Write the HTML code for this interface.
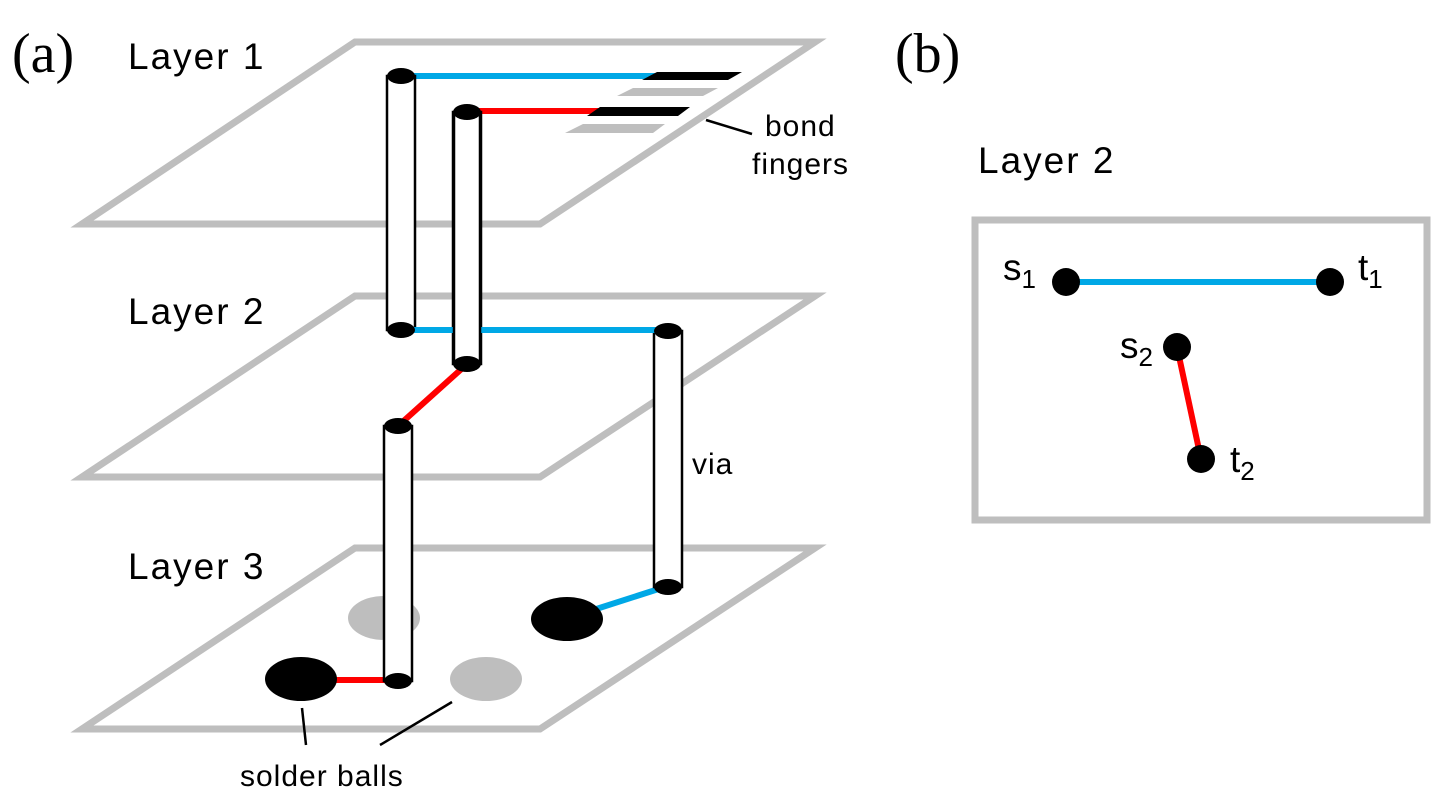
<!DOCTYPE html>
<html><head><style>body{margin:0;background:#fff}svg{display:block}text{font-family:"Liberation Sans","Noto Sans CJK KR",sans-serif;fill:#000}</style></head>
<body>
<svg width="1452" height="805" viewBox="0 0 1452 805" xmlns="http://www.w3.org/2000/svg">
<g fill="none" stroke="#bebebe" stroke-width="7">
<polygon points="355,42 815,42 540,224 82,224"/>
<polygon points="355,296 815,296 540,477 82,477"/>
<polygon points="355,548 815,548 540,729 82,729"/>
<rect x="975" y="220" width="452" height="300"/>
</g>
<text x="12" y="72" style="font-family:'Liberation Serif',serif" font-size="56">(a)</text>
<text x="895" y="72" style="font-family:'Liberation Serif',serif" font-size="56">(b)</text>
<g font-size="37" letter-spacing="2">
<text x="128" y="69">Layer 1</text>
<text x="128" y="324">Layer 2</text>
<text x="128" y="579">Layer 3</text>
<text x="978" y="173">Layer 2</text>
</g>
<!-- bond fingers -->
<line x1="401" y1="76" x2="657" y2="76" stroke="#00a8e6" stroke-width="6"/>
<line x1="467" y1="111" x2="600" y2="111" stroke="#f00" stroke-width="6"/>
<polygon points="657,72 742,72 728,80 642,80" fill="#000"/>
<polygon points="633,88 718,88 703,96 617,96" fill="#bebebe"/>
<polygon points="600,107 690,107 678,116 587,116" fill="#000"/>
<polygon points="583,124 665,124 653,133 565,133" fill="#bebebe"/>
<line x1="706" y1="120" x2="752" y2="134" stroke="#000" stroke-width="2.5"/>
<g font-size="30" letter-spacing="1">
<text x="765" y="136">bond</text>
<text x="752" y="174">fingers</text>
<text x="240" y="786">solder balls</text>
<text x="692" y="474">via</text>
</g>
<!-- layer 3 balls -->
<ellipse cx="384" cy="618" rx="36" ry="22" fill="#bebebe"/>
<ellipse cx="486" cy="679" rx="36" ry="22" fill="#bebebe"/>
<line x1="301" y1="680" x2="398" y2="680" stroke="#f00" stroke-width="6"/>
<line x1="590" y1="611" x2="668" y2="586" stroke="#00a8e6" stroke-width="6"/>
<ellipse cx="567" cy="619" rx="36" ry="22" fill="#000"/>
<ellipse cx="301" cy="679" rx="36" ry="22" fill="#000"/>
<line x1="302" y1="708" x2="306" y2="745" stroke="#000" stroke-width="2.5"/>
<line x1="452" y1="702" x2="380" y2="745" stroke="#000" stroke-width="2.5"/>
<!-- vias -->
<g stroke="#000" stroke-width="2.5" fill="#fff">
<rect x="387" y="76" width="28" height="254"/>
<rect x="453" y="112" width="28" height="252"/>
<rect x="384" y="426" width="28" height="255"/>
<rect x="654" y="331" width="28" height="256"/>
</g>
<line x1="401" y1="330" x2="668" y2="330" stroke="#00a8e6" stroke-width="6"/>
<rect x="454" y="326" width="26" height="10" fill="#fff"/>
<line x1="454" y1="112" x2="454" y2="364" stroke="#000" stroke-width="2.5"/>
<line x1="480" y1="112" x2="480" y2="364" stroke="#000" stroke-width="2.5"/>
<line x1="467" y1="364" x2="398" y2="426" stroke="#f00" stroke-width="6"/>
<g fill="#000">
<ellipse cx="401" cy="76" rx="14" ry="8"/><ellipse cx="401" cy="330" rx="14" ry="8"/>
<ellipse cx="467" cy="112" rx="14" ry="8"/><ellipse cx="467" cy="364" rx="14" ry="8"/>
<ellipse cx="398" cy="426" rx="14" ry="8"/><ellipse cx="398" cy="681" rx="14" ry="8"/>
<ellipse cx="668" cy="331" rx="14" ry="8"/><ellipse cx="668" cy="587" rx="14" ry="8"/>
</g>
<!-- panel b -->
<line x1="1066" y1="282" x2="1330" y2="282" stroke="#00a8e6" stroke-width="6"/>
<line x1="1177" y1="347" x2="1201" y2="459" stroke="#f00" stroke-width="6"/>
<g fill="#000"><circle cx="1066" cy="282" r="14"/><circle cx="1330" cy="282" r="14"/><circle cx="1177" cy="347" r="14"/><circle cx="1201" cy="459" r="14"/></g>
<g font-size="37">
<text x="1003" y="280">s<tspan font-size="26" dy="8">1</tspan></text>
<text x="1358" y="280">t<tspan font-size="26" dy="8">1</tspan></text>
<text x="1120" y="358">s<tspan font-size="26" dy="8">2</tspan></text>
<text x="1230" y="472">t<tspan font-size="26" dy="8">2</tspan></text>
</g>
</svg>
</body></html>
